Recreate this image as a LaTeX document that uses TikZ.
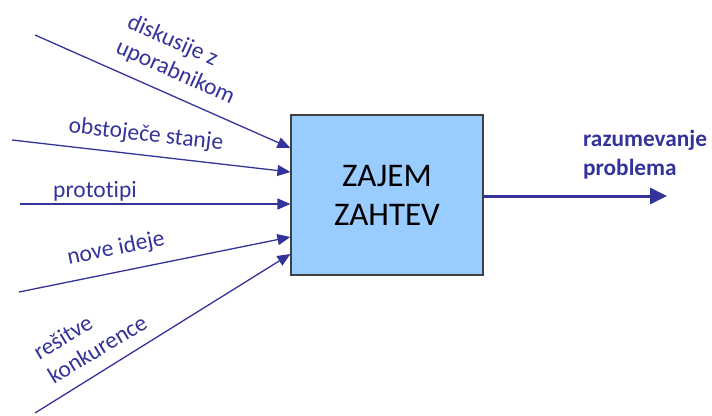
\documentclass[tikz,border=0pt]{standalone}
\usepackage{fontspec}
\setmainfont[Ligatures={NoCommon,NoContextual},RawFeature={-calt}]{Carlito}
\usetikzlibrary{arrows.meta}
\definecolor{flowblue}{HTML}{333399}
\definecolor{boxfill}{HTML}{99CCFF}
\definecolor{boxline}{HTML}{404040}
\begin{document}
\begin{tikzpicture}[x=1pt,y=-1pt,
  inflow/.style={draw=flowblue,line width=1.3pt,-{Triangle[length=13pt,width=11pt]}},
  outflow/.style={draw=flowblue,line width=3pt,-{Triangle[length=17pt,width=16pt]}},
  lbl/.style={text=flowblue,inner sep=0pt,align=left,font=\fontsize{23.5}{28}\selectfont},
  process/.style={draw=boxline,line width=1.2pt,fill=boxfill,minimum width=192pt,minimum height=160pt,
    inner sep=0pt,align=center,font=\fontsize{33}{39}\selectfont}]
\useasboundingbox (0,0) rectangle (712,415);

% central process box
\node[process] (box) at (387,195) {ZAJEM\\ZAHTEV};

% sources of the incoming flows
\coordinate (s1) at (35,35);
\coordinate (s2) at (12,140);
\coordinate (s3) at (20,204);
\coordinate (s4) at (19,292);
\coordinate (s5) at (35,413);
\coordinate (out) at (667,196);

\draw[inflow] (s1) -- ([yshift=47pt]box.west);
\draw[inflow] (s2) -- ([yshift=23pt]box.west);
\draw[inflow] (s3) -- ([yshift=-9pt]box.west);
\draw[inflow] (s4) -- ([yshift=-42pt]box.west);
\draw[inflow] (s5) -- ([yshift=-59pt]box.west);
\draw[outflow] ([yshift=-1pt]box.east) -- (out);

% flow labels
\node[lbl,rotate=-24] (l1) at (181,60) {diskusije z\\uporabnikom};
\node[lbl,rotate=-6.5] (l2) at (146,135) {obstoječe stanje};
\node[lbl] (l3) at (95,191) {prototipi};
\node[lbl,rotate=11.5] (l4) at (116,249) {nove ideje};
\node[lbl,rotate=31] (l5) at (90,337) {rešitve\\konkurence};
\node[lbl,anchor=west,font=\fontsize{23.3}{29}\selectfont\bfseries] (l6) at (583,155) {razumevanje\\problema};
\end{tikzpicture}
\end{document}
